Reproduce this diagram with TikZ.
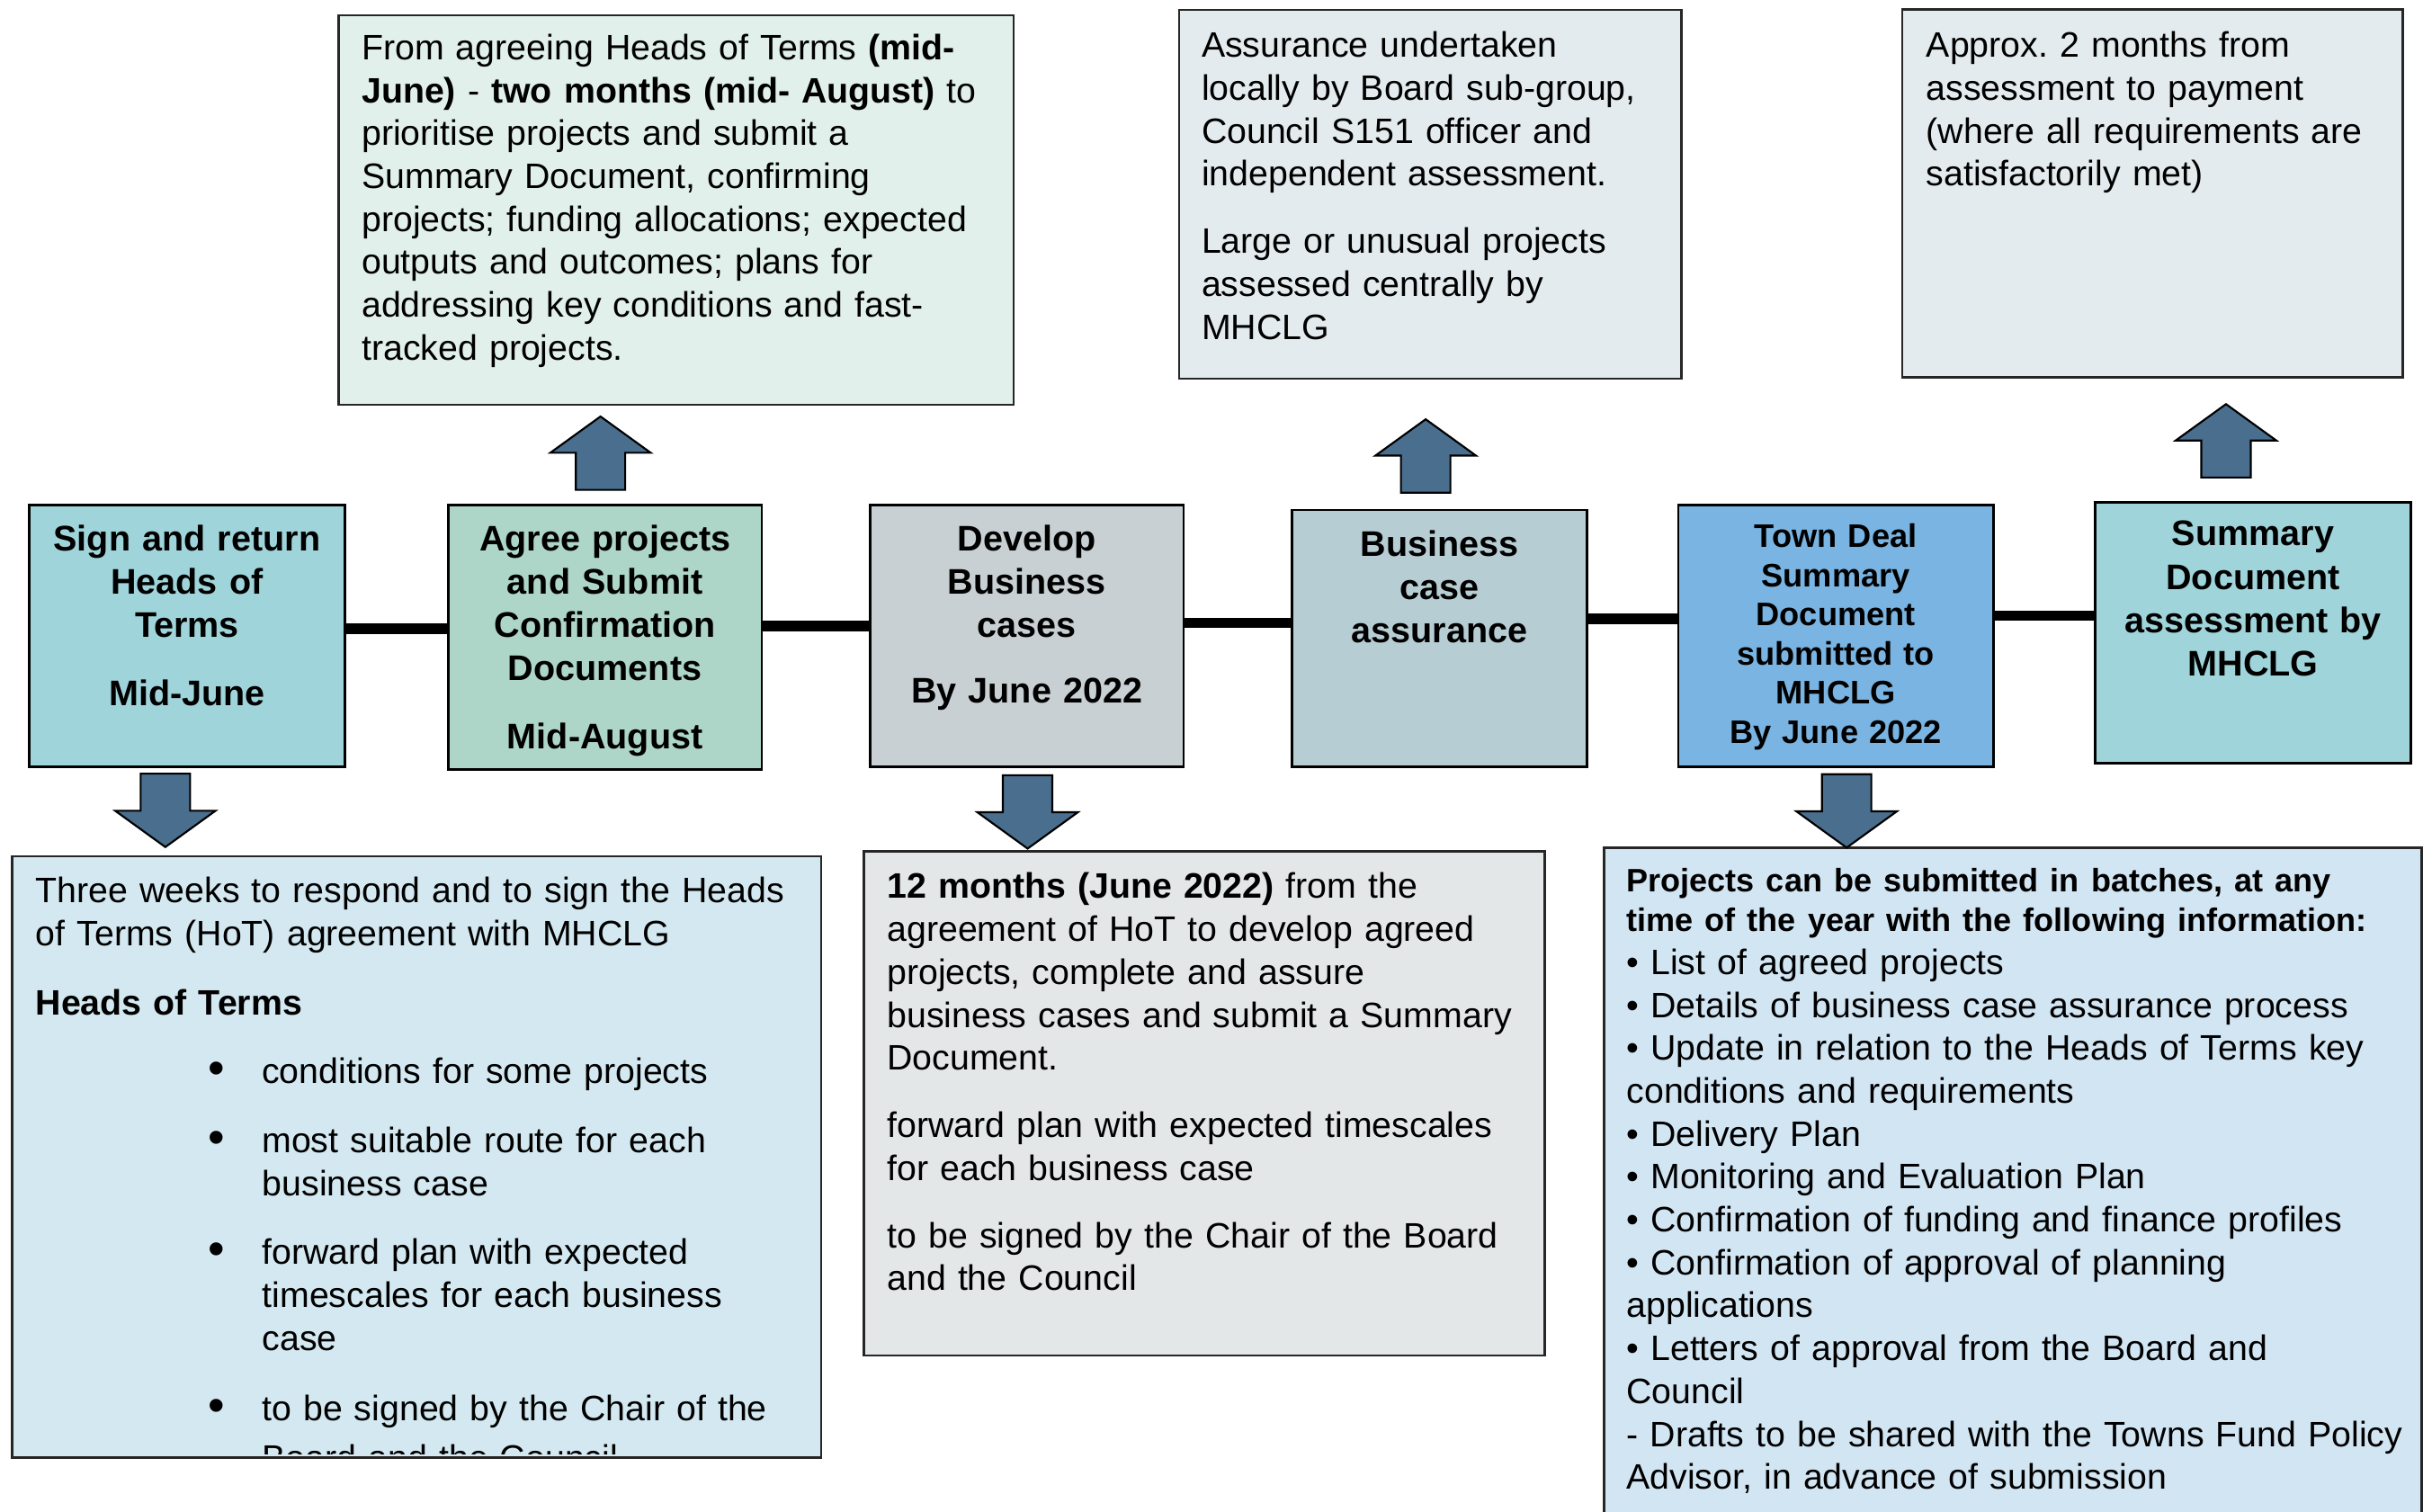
\documentclass[tikz,border=0pt]{standalone}
\usepackage{fontspec}
\usepackage{graphicx}
\setmainfont{Liberation Sans}
\usetikzlibrary{positioning,fit}

\definecolor{tealbox}{RGB}{159,212,218}
\definecolor{mintbox}{RGB}{173,214,200}
\definecolor{greybox}{RGB}{200,208,211}
\definecolor{slatebox}{RGB}{183,205,212}
\definecolor{bluebox}{RGB}{121,180,226}
\definecolor{mintnote}{RGB}{226,240,236}
\definecolor{greynote}{RGB}{228,235,238}
\definecolor{bluenote}{RGB}{211,232,240}
\definecolor{palenote}{RGB}{227,231,232}
\definecolor{skynote}{RGB}{210,229,243}
\definecolor{arrowblue}{RGB}{74,110,142}

\newcommand{\stagefont}{\fontsize{13.1}{16}\selectfont\bfseries}
\newcommand{\stagesmall}{\fontsize{12.0}{14.4}\selectfont\bfseries}
\newcommand{\notefont}{\fontsize{13.02}{15.8}\selectfont}
\newcommand{\notehead}{\fontsize{11.95}{14.8}\selectfont\bfseries}
\newcommand{\hotbullet}{\hspace*{2.23cm}\makebox[0.7cm][l]{\raisebox{-0.4pt}{\scalebox{1.35}{•}}}}
\newcommand{\hotindent}{\hspace*{2.934cm}}

\tikzset{
  stage/.style={draw=black, line width=0.032cm, inner sep=0pt},
  note/.style={draw=black!85, line width=0.03cm, inner sep=0pt},
  stagetext/.style={inner sep=0pt, text width=4cm, align=center, font=\stagefont},
  notetext/.style={inner sep=0pt, align=left, font=\notefont},
  timeline/.style={line width=0.135cm},
  blockarrow/.style={draw=black, fill=arrowblue, line width=0.025cm}
}

\begin{document}
\frenchspacing
\begin{tikzpicture}[x=0.02cm, y=-0.02cm]
  \useasboundingbox (0,0) rectangle (1568,978);
  \clip (0,0) rectangle (1568,978);
  \fill[white] (0,0) rectangle (1568,978);

  % stages on the time line
  \node[stage, fill=tealbox, fit={(19,327) (223,496)}] (m1) {};
  \node[stage, fill=mintbox, fit={(290,327) (493,498)}] (m2) {};
  \node[stage, fill=greybox, fit={(563,327) (766,496)}] (m3) {};
  \node[stage, fill=slatebox, fit={(836,330) (1027,496)}] (m4) {};
  \node[stage, fill=bluebox, fit={(1086,327) (1290,496)}] (m5) {};
  \node[stage, fill=tealbox, fit={(1356,325) (1560,494)}] (m6) {};

  \foreach \a/\b/\y in {m1/m2/407, m2/m3/405, m3/m4/403, m4/m5/400.5, m5/m6/398.5}
    \draw[timeline] (\a.east |- 0,\y) -- (\b.west |- 0,\y);

  \node[stagetext, below=0.26cm of m1.north] (m1txt) {Sign and return\\ Heads of\\ Terms\\[9pt] Mid-June};
  \node[stagetext, below=0.26cm of m2.north] (m2txt) {Agree projects\\ and Submit\\ Confirmation\\ Documents\\[9pt] Mid-August};
  \node[stagetext, below=0.26cm of m3.north] (m3txt) {Develop\\ Business\\ cases\\[8pt] By June 2022};
  \node[stagetext, below=0.27cm of m4.north] (m4txt) {Business\\ case\\ assurance};
  \node[stagetext, font=\stagesmall, below=0.25cm of m5.north] (m5txt) {Town Deal\\ Summary\\ Document\\ submitted to\\ MHCLG\\ By June 2022};
  \node[stagetext, below=0.25cm of m6.north] (m6txt) {Summary\\ Document\\ assessment by\\ MHCLG};

  % notes above
  \node[note, fill=mintnote, fit={(219,10) (656,262)}] (t1) {};
  \node[notetext, text width=8.4cm, below right=0.25cm and 0.31cm of t1.north west] (t1txt)
    {From agreeing Heads of Terms \textbf{(mid-}\\
     \textbf{June)} - \textbf{two months (mid- August)} to\\
     prioritise projects and submit a\\
     Summary Document, confirming\\
     projects; funding allocations; expected\\
     outputs and outcomes; plans for\\
     addressing key conditions and fast-\\
     tracked projects.};

  \node[note, fill=greynote, fit={(763,6.5) (1088,245)}] (t2) {};
  \node[notetext, text width=6.2cm, below right=0.29cm and 0.3cm of t2.north west] (t2txt)
    {Assurance undertaken\\
     locally by Board sub-group,\\
     Council S151 officer and\\
     independent assessment.\\[9pt]
     Large or unusual projects\\
     assessed centrally by\\
     MHCLG};

  \node[note, fill=greynote, fit={(1231,6) (1555,244)}] (t3) {};
  \node[notetext, text width=6.2cm, below right=0.3cm and 0.32cm of t3.north west] (t3txt)
    {Approx. 2 months from\\
     assessment to payment\\
     (where all requirements are\\
     satisfactorily met)};

  % notes below
  \node[note, fill=bluenote, fit={(8,554) (531.5,943.3)}] (b1) {};
  \begin{scope}
    \clip (b1.north west) rectangle ([yshift=1.9pt]b1.south east);
    \node[notetext, text width=10cm, below right=0.28cm and 0.31cm of b1.north west] (b1txt)
      {Three weeks to respond and to sign the Heads\\
       of Terms (HoT) agreement with MHCLG\\[9.6pt]
       \textbf{Heads of Terms}\\[9.6pt]
       \hotbullet conditions for some projects\\[9.6pt]
       \hotbullet most suitable route for each\\
       \hotindent business case\\[9.6pt]
       \hotbullet forward plan with expected\\
       \hotindent timescales for each business\\
       \hotindent case\\[10pt]
       \hotbullet to be signed by the Chair of the\\[2.6pt]
       \hotindent Board and the Council};
  \end{scope}

  \node[note, fill=palenote, fit={(559,551) (999.5,877)}] (b2) {};
  \node[notetext, text width=8.6cm, below right=0.285cm and 0.31cm of b2.north west] (b2txt)
    {\textbf{12 months (June 2022)} from the\\
     agreement of HoT to develop agreed\\
     projects, complete and assure\\
     business cases and submit a Summary\\
     Document.\\[9pt]
     forward plan with expected timescales\\
     for each business case\\[9pt]
     to be signed by the Chair of the Board\\
     and the Council};

  \node[note, fill=skynote, fit={(1038,548.5) (1567,1010)}] (b3) {};
  \node[notetext, text width=10.6cm, below right=0.27cm and 0.3cm of b3.north west] (b3txt)
    {{\notehead Projects can be submitted in batches, at any\\
      time of the year with the following information:\par}
     • List of agreed projects\\
     • Details of business case assurance process\\
     • Update in relation to the Heads of Terms key\\
     conditions and requirements\\
     • Delivery Plan\\
     • Monitoring and Evaluation Plan\\
     • Confirmation of funding and finance profiles\\
     • Confirmation of approval of planning\\
     applications\\
     • Letters of approval from the Board and\\
     Council\\
     - Drafts to be shared with the Towns Fund Policy\\
     Advisor, in advance of submission};

  % block arrows
  \foreach \cx/\ty in {107/500.6, 665/501.6, 1195/501}
    \draw[blockarrow] ({\cx-16},\ty) -- ({\cx+16},\ty) -- ({\cx+16},{\ty+24})
      -- ({\cx+32.5},{\ty+24}) -- (\cx,{\ty+47.5}) -- ({\cx-32.5},{\ty+24})
      -- ({\cx-16},{\ty+24}) -- cycle;
  \foreach \cx/\ty in {388.6/269.5, 922.6/271.3, 1440.5/261.5}
    \draw[blockarrow] (\cx,\ty) -- ({\cx+32.5},{\ty+23.5}) -- ({\cx+16},{\ty+23.5})
      -- ({\cx+16},{\ty+47.5}) -- ({\cx-16},{\ty+47.5}) -- ({\cx-16},{\ty+23.5})
      -- ({\cx-32.5},{\ty+23.5}) -- cycle;
\end{tikzpicture}
\end{document}
